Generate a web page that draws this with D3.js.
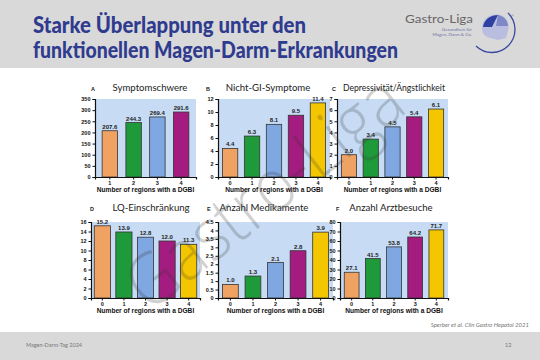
<!DOCTYPE html>
<html><head><meta charset="utf-8">
<script src="https://cdn.jsdelivr.net/npm/d3@7"></script>
<style>body{margin:0;background:#fff}svg{display:block}</style>
</head><body>
<svg id="c" width="540" height="360"></svg>
<script>
// ---- data ----
const catsA = ["1","2","3","4"];
const cats = ["0","1","2","3","4"];
const valsA = [207.6, 244.3, 269.4, 291.6];
const valsB = [4.4, 6.3, 8.1, 9.5, 11.4];
const valsC = [2.0, 3.4, 4.5, 5.4, 6.1];
const valsD = [15.2, 13.9, 12.8, 12.0, 11.3];
const valsE = [0.8, 1.3, 2.1, 2.8, 3.9];
const labelsE = ["1.0", "1.3", "2.1", "2.8", "3.9"];
const valsF = [27.1, 41.5, 53.8, 64.2, 71.7];
const ticksA = [0,50,100,150,200,250,300,350];
const ticksB = [0,2,4,6,8,10,12];
const ticksC = [0,1,2,3,4,5,6,7];
const ticksD = [0,2,4,6,8,10,12,14,16];
const ticksE = [0,0.5,1,1.5,2,2.5,3,3.5,4,4.5];
const ticksF = [0,10,20,30,40,50,60,70,80];
const titles = ["Symptomschwere","Nicht-GI-Symptome","Depressivität/Ängstlichkeit","LQ-Einschränkung","Anzahl Medikamente","Anzahl Arztbesuche"];
const letters = ["A","B","C","D","E","F"];
const xTitle = "Number of regions with a DGBI";
const barColorsA = ["#F0A263","#1F9A3A","#7FA8E2","#A51C80"];
const barColors = ["#F0A263","#1F9A3A","#7FA8E2","#A51C80","#F4C600"];

const svg = d3.select("#c");
// header & footer
svg.append("rect").attr("x",0).attr("y",0).attr("width",540).attr("height",68).attr("fill","#D9D9D9");
svg.append("rect").attr("x",0).attr("y",332).attr("width",540).attr("height",28).attr("fill","#D9D9D9");
const hdr = svg.append("g").attr("font-family","Lato, 'Open Sans', sans-serif").attr("font-weight","900").attr("fill","#2F3B8E");
hdr.append("text").attr("x",33).attr("y",33).attr("font-size",22).attr("textLength",273).attr("lengthAdjust","spacingAndGlyphs").text("Starke Überlappung unter den");
hdr.append("text").attr("x",33).attr("y",58).attr("font-size",22).attr("textLength",365).attr("lengthAdjust","spacingAndGlyphs").text("funktionellen Magen-Darm-Erkrankungen");

// logo
const lg = svg.append("g");
lg.append("text").attr("x",405).attr("y",23).attr("font-family","Lato, sans-serif").attr("font-size",12).attr("fill","#666").attr("textLength",68).attr("lengthAdjust","spacingAndGlyphs").text("Gastro-Liga");
const sub = lg.append("text").attr("text-anchor","end").attr("font-family","Lato, sans-serif").attr("font-size",4.6).attr("fill","#6d74a8");
sub.append("tspan").attr("x",472).attr("y",30.5).text("Gesundheit für");
sub.append("tspan").attr("x",472).attr("y",36.3).text("Magen, Darm & Co.");
lg.append("path").attr("d","M476,46 A22,22 0 0 0 508,13").attr("fill","none").attr("stroke","#3848a0").attr("stroke-width",1.3);
lg.append("path").attr("d","M482,28 C482,18 492,13 500,15 C507,17 510,24 508,31 L506,38 L498,40 L490,38 C484,36 482,33 482,28 Z").attr("fill","#B9BEE0");
lg.append("path").attr("d","M483,27 C484,19 491,15 498,15 L492,27 Z").attr("fill","#3040A0");
lg.append("path").attr("d","M498,15 C504,16 508,21 508,26 L496,26 Z").attr("fill","#7F89C8");
lg.append("text").attr("x",511).attr("y",17).attr("font-size",4).attr("fill","#777").text("®");

// citation & footer text
svg.append("text").attr("x",529).attr("y",327).attr("text-anchor","end").attr("font-family","Lato, sans-serif").attr("font-style","italic").attr("font-size",6).attr("fill","#777").text("Sperber et al. Clin Gastro Hepatol 2021");
svg.append("text").attr("x",26).attr("y",347).attr("font-family","Lato, sans-serif").attr("font-size",5.5).attr("fill","#777").text("Magen-Darm-Tag 2024");
svg.append("text").attr("x",505).attr("y",347).attr("font-family","Lato, sans-serif").attr("font-size",5.5).attr("fill","#777").text("12");

const panels = [
  {cats:catsA, vals:valsA, labels:valsA.map(d=>d.toFixed(1)), ticks:ticksA, max:350, colors:barColorsA, x0:95, x1:196, y0:177, y1:99, tx:150, tw:0, lx:91, ty:91, pi:0.35, po:0.3},
  {cats:cats, vals:valsB, labels:valsB.map(d=>d.toFixed(1)), ticks:ticksB, max:12, colors:barColors, x0:218, x1:330, y0:177, y1:99, tx:268, tw:0, lx:206, ty:91, pi:0.3, po:0.2},
  {cats:cats, vals:valsC, labels:valsC.map(d=>d.toFixed(1)), ticks:ticksC, max:7, colors:barColors, x0:337, x1:448, y0:177, y1:99, tx:394, tw:102, lx:332, ty:91, pi:0.3, po:0.2},
  {cats:cats, vals:valsD, labels:valsD.map(d=>d.toFixed(1)), ticks:ticksD, max:16, colors:barColors, x0:91, x1:200, y0:298, y1:222, tx:151, tw:0, lx:90, ty:211, pi:0.25, po:0.15},
  {cats:cats, vals:valsE, labels:labelsE, ticks:ticksE, max:4.5, colors:barColors, x0:218, x1:333, y0:298, y1:222, tx:264, tw:0, lx:207, ty:211, pi:0.3, po:0.2},
  {cats:cats, vals:valsF, labels:valsF.map(d=>d.toFixed(1)), ticks:ticksF, max:80, colors:barColors, x0:340, x1:448, y0:298, y1:222, tx:391, tw:0, lx:336, ty:211, pi:0.3, po:0.2}
];

panels.forEach((p,i)=>{
  const g = svg.append("g");
  const x = d3.scaleBand().domain(p.cats).range([p.x0, p.x1]).paddingInner(p.pi).paddingOuter(p.po);
  const y = d3.scaleLinear().domain([0,p.max]).range([p.y0,p.y1]);
  g.append("rect").attr("x",p.x0).attr("y",p.y1).attr("width",p.x1-p.x0).attr("height",p.y0-p.y1).attr("fill","#C7DCF4");
  g.selectAll(".bar").data(p.vals).join("rect")
    .attr("x",(d,j)=>x(p.cats[j])).attr("y",d=>y(d)).attr("width",x.bandwidth()).attr("height",d=>p.y0-y(d))
    .attr("fill",(d,j)=>p.colors[j]).attr("stroke","#333").attr("stroke-width",0.8);
  g.selectAll(".lab").data(p.vals).join("text")
    .attr("x",(d,j)=>x(p.cats[j])+x.bandwidth()/2).attr("y",d=>y(d)-2)
    .attr("text-anchor","middle").attr("font-family","Liberation Sans, Arial, sans-serif").attr("font-weight","bold").attr("font-size",6).attr("fill","#222")
    .text((d,j)=>p.labels[j]);
  const ya = g.append("g").attr("transform",`translate(${p.x0},0)`)
    .call(d3.axisLeft(y).tickValues(p.ticks).tickSize(2.5).tickPadding(2).tickFormat(d3.format("")));
  const xa = g.append("g").attr("transform",`translate(0,${p.y0})`)
    .call(d3.axisBottom(x).tickSize(2.5).tickPadding(2));
  [ya,xa].forEach(a=>{
    a.select(".domain").attr("stroke","#111").attr("stroke-width",1.2);
    a.selectAll(".tick line").attr("stroke","#111");
    a.selectAll("text").attr("font-family","Liberation Sans, Arial, sans-serif").attr("font-weight","bold").attr("font-size",5.5).attr("fill","#111");
  });
  g.append("text").attr("x",(p.x0+p.x1)/2).attr("y",p.y0+15).attr("text-anchor","middle")
    .attr("font-family","Liberation Sans, Arial, sans-serif").attr("font-weight","bold").attr("font-size",6.6).attr("fill","#111").text(xTitle);
  const t = g.append("text").attr("x",p.tx).attr("y",p.ty).attr("text-anchor","middle").attr("font-family","Lato, sans-serif").attr("font-size",9.6).attr("fill","#222").text(titles[i]);
  if (p.tw) t.attr("textLength",p.tw).attr("lengthAdjust","spacingAndGlyphs");
  g.append("text").attr("x",p.lx).attr("y",p.ty).attr("font-family","Liberation Sans, Arial, sans-serif").attr("font-weight","bold").attr("font-size",5.5).attr("fill","#222").text(letters[i]);
});

// watermark
svg.append("text").attr("transform","translate(262,190) rotate(-38)")
  .attr("text-anchor","middle").attr("dominant-baseline","central")
  .attr("font-family","'Open Sans', sans-serif").attr("font-weight",300).attr("font-size",72)
  .attr("textLength",330).attr("lengthAdjust","spacingAndGlyphs")
  .attr("fill","#333").attr("opacity",0.22).text("Gastro-Liga");
</script>
</body></html>
